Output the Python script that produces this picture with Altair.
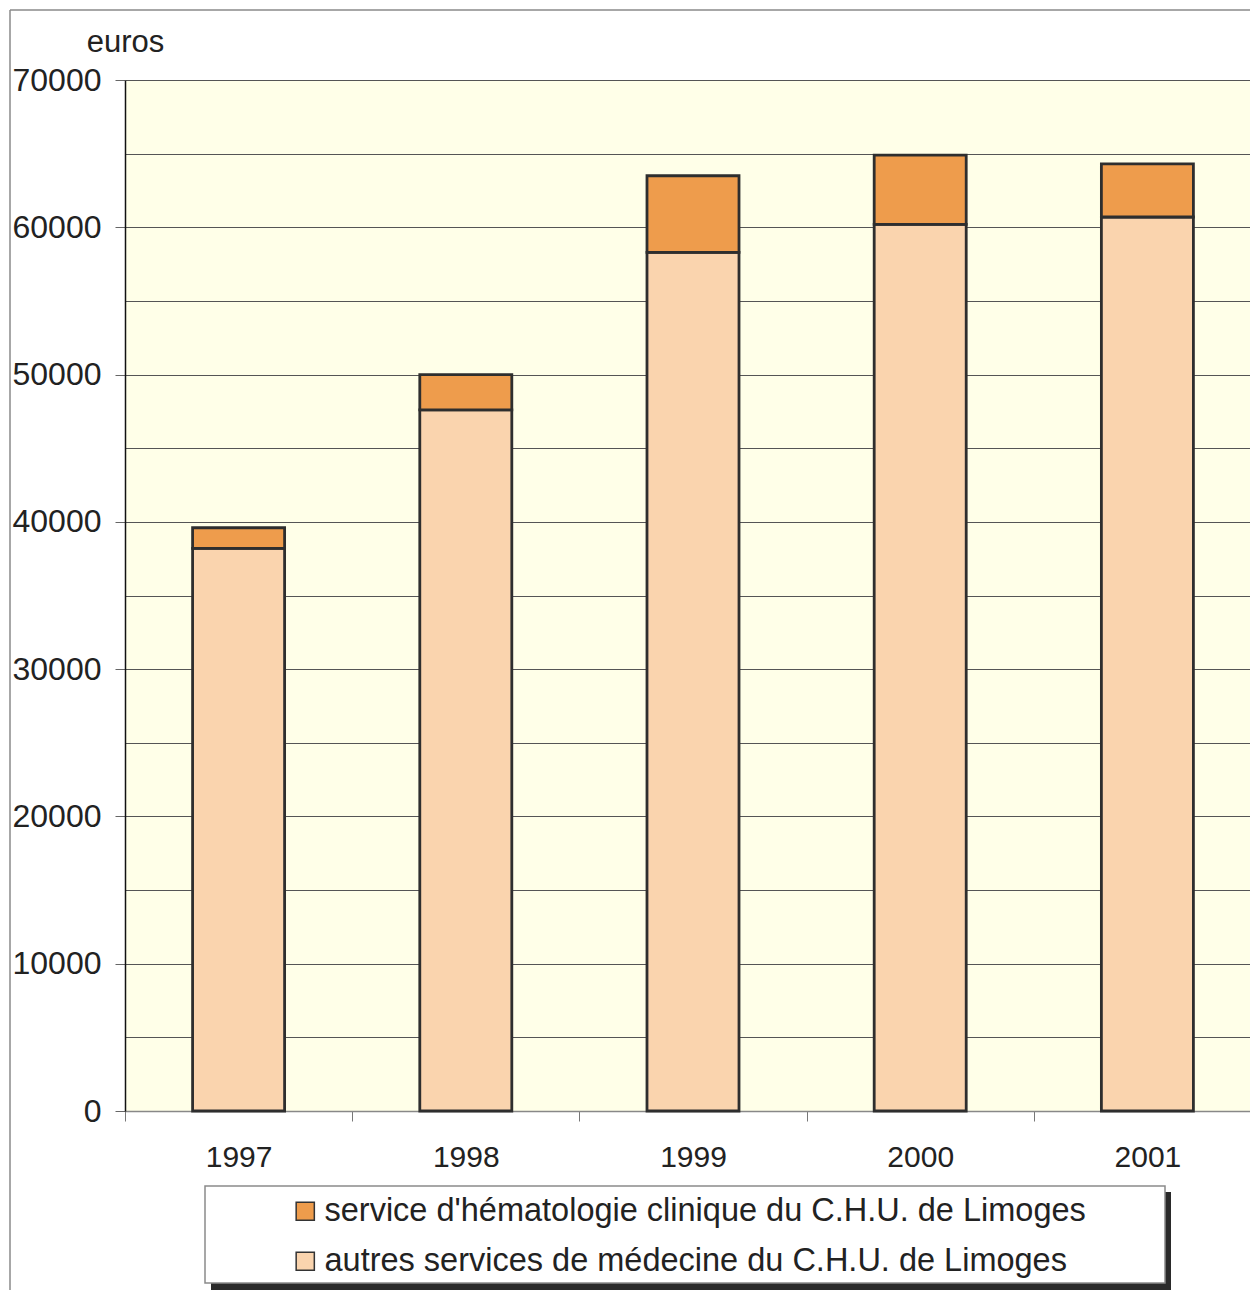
import altair as alt
import pandas as pd

# Dépenses annuelles (euros), C.H.U. de Limoges
years = ["1997", "1998", "1999", "2000", "2001"]
autres = [38200, 47600, 58300, 60200, 60700]
hemato = [1400, 2400, 5200, 4700, 3600]

SERIE_HEMATO = "service d'hématologie clinique du C.H.U. de Limoges"
SERIE_AUTRES = "autres services de médecine du C.H.U. de Limoges"
series = [SERIE_HEMATO, SERIE_AUTRES]
colors = ["#EE9C4C", "#FAD4AE"]

rows = []
for y, a, h in zip(years, autres, hemato):
    rows.append({"annee": y, "serie": SERIE_AUTRES, "valeur": a, "rang": 0})
    rows.append({"annee": y, "serie": SERIE_HEMATO, "valeur": h, "rang": 1})
df = pd.DataFrame(rows)

FONT = "Liberation Sans"
W, H = 1125, 1031
STEP = 1136 / 5  # largeur d'une catégorie sur l'axe des x

bars = alt.Chart(df).mark_bar(stroke="#2e2e2e", strokeWidth=2.8).encode(
    x=alt.X(
        "annee:N",
        sort=years,
        title=None,
        scale=alt.Scale(paddingInner=0.595, paddingOuter=0.2975, range=[0, 1136]),
        axis=alt.Axis(
            labelAngle=0,
            labelFontSize=30,
            labelFont=FONT,
            labelColor="#222",
            labelPadding=21,
            tickOffset=-STEP / 2,
            labelOffset=STEP / 2,
            tickSize=10,
            tickColor="#777",
            domainColor="#888",
            domainWidth=1.5,
            grid=False,
        ),
    ),
    y=alt.Y(
        "valeur:Q",
        stack="zero",
        scale=alt.Scale(domain=[0, 70000], nice=False),
        axis=alt.Axis(
            values=list(range(0, 70001, 5000)),
            labelExpr="datum.value % 10000 === 0 ? datum.value : ''",
            labelFontSize=32,
            labelFont=FONT,
            labelColor="#222",
            labelPadding=14,
            tickSize=10,
            tickColor={"condition": {"test": "datum.value % 10000 === 0", "value": "#666"},
                       "value": "transparent"},
            grid=True,
            gridColor="#555",
            gridWidth=1.2,
            domainColor="#111",
            domainWidth=1.5,
            title="euros",
            titleFont=FONT,
            titleFontSize=31,
            titleFontWeight="normal",
            titleColor="#222",
            titleAngle=0,
            titleAlign="center",
            titleBaseline="middle",
            titleX=0,
            titleY=-38,
        ),
    ),
    color=alt.Color(
        "serie:N",
        scale=alt.Scale(domain=series, range=colors),
        legend=alt.Legend(
            title=None,
            orient="none",
            legendX=164,
            legendY=1115,
            direction="vertical",
            symbolType="square",
            symbolSize=330,
            symbolStrokeColor="#333",
            symbolStrokeWidth=1.5,
            labelFont=FONT,
            labelFontSize=32.5,
            labelColor="#222",
            labelOffset=3,
            labelLimit=1000,
            rowPadding=17,
            padding=0,
        ),
    ),
    order=alt.Order("rang:Q"),
)

one = alt.Data(values=[{"k": 1}])

# cadre de la légende avec son ombre portée
legend_shadow = alt.Chart(one).mark_rect(fill="#2a2a2a").encode(
    x=alt.value(86), x2=alt.value(1046), y=alt.value(1112), y2=alt.value(1212)
)
legend_box = alt.Chart(one).mark_rect(fill="white", stroke="#8a8a8a", strokeWidth=1.5).encode(
    x=alt.value(80), x2=alt.value(1040), y=alt.value(1106), y2=alt.value(1203)
)

# bordure extérieure de la zone du graphique
frame_left = alt.Chart(one).mark_rule(color="#8a8a8a", strokeWidth=1.5).encode(
    x=alt.value(-115), y=alt.value(-70), y2=alt.value(1215)
)
frame_top = alt.Chart(one).mark_rule(color="#8a8a8a", strokeWidth=1.5).encode(
    x=alt.value(-115), x2=alt.value(1130), y=alt.value(-70)
)

chart = alt.layer(frame_left, frame_top, legend_shadow, legend_box, bars).properties(
    width=W,
    height=H,
    autosize=alt.AutoSizeParams(type="none"),
    padding={"left": 125, "top": 80, "right": 0, "bottom": 179},
    background="white",
).configure_view(
    fill="#FFFFE8",
    stroke=None,
)

chart.save("out.html", embed_options={"renderer": "svg", "actions": False})
